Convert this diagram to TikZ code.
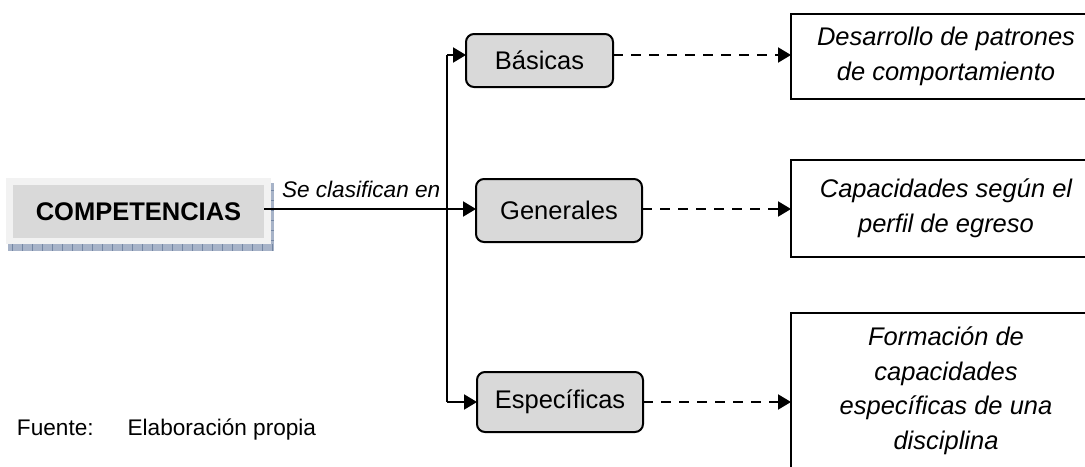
\documentclass[tikz,border=0pt]{standalone}
\usepackage{fontspec}
\setmainfont{Liberation Sans}
\usetikzlibrary{arrows.meta}
\definecolor{boxgray}{HTML}{D9D9D9}
\definecolor{framegray}{HTML}{F2F2F2}
\definecolor{shadowblue}{HTML}{A7B3C8}
\definecolor{shadowdark}{HTML}{7386A3}
\begin{document}
\begin{tikzpicture}[x=0.5pt,y=-0.5pt,
  every node/.style={inner sep=0pt,outer sep=0pt},
  bigfont/.style={font=\fontsize{12.75}{17.25}\selectfont},
  smallfont/.style={font=\fontsize{11.3}{13.5}\selectfont},
  catbox/.style={draw,line width=1pt,rounded corners=4pt,fill=boxgray,bigfont},
  descbox/.style={draw,line width=1pt,fill=white,minimum width=155pt,align=center,font=\fontsize{12.75}{17.25}\selectfont\itshape},
  conn/.style={line width=1pt,-{Triangle[length=6.5pt,width=7.5pt]}},
  dashconn/.style={conn,dash pattern=on 5pt off 4pt}
]
\useasboundingbox (0,0) rectangle (1085,466);
\clip (0,0) rectangle (1085,466);
\fill[white] (0,0) rectangle (1085,466);

% COMPETENCIAS box with frame and shadow
\fill[shadowblue] (8,244) rectangle (274,251);
\fill[shadowblue] (271,183) rectangle (274,251);
\foreach \x in {12,22,...,272} \draw[shadowdark,line width=0.4pt] (\x,244) -- (\x,251);
\foreach \y in {190,200,...,240} \draw[shadowdark,line width=0.4pt] (271,\y) -- (274,\y);
\fill[framegray] (6,178) rectangle (271,244);
\node[fill=boxgray,minimum width=125.5pt,minimum height=26.5pt,font=\fontsize{12.75}{15}\selectfont\bfseries] (comp) at (138.5,211.5) {COMPETENCIAS};

% category boxes
\node[catbox,minimum width=73.5pt,minimum height=26.5pt] (bas) at (539.5,60.5) {Básicas};
\node[catbox,minimum width=83pt,minimum height=31.5pt] (gen) at (559,210.5) {Generales};
\node[catbox,minimum width=83pt,minimum height=30pt] (esp) at (560,402) {Específicas};

% description boxes
\node[descbox,minimum height=42.5pt] (r1) at (946,56.5) {Desarrollo de patrones\\de comportamiento};
\node[descbox,minimum height=48.5pt] (r2) at (946,208.5) {Capacidades según el\\perfil de egreso};
\node[descbox,minimum height=78pt] (r3) at (946,391) {Formación de\\capacidades\\específicas de una\\disciplina};

% trunk
\coordinate (mid) at (447,209);
\coordinate (jt) at (447,55);
\coordinate (jb) at (447,402);
\draw[line width=1pt] (jt) -- (jb);
\draw[conn] (comp.east |- mid) -- (mid -| gen.west);
\draw[conn] (jt) -- (jt -| bas.west);
\draw[conn] (jb) -- (jb -| esp.west);

% dashed connectors
\draw[dashconn] (bas.east |- jt) -- (jt -| r1.west);
\draw[dashconn] (gen.east |- mid) -- (mid -| r2.west);
\draw[dashconn] (esp.east |- jb) -- (jb -| r3.west);

% labels
\node[font=\fontsize{11.3}{13.5}\selectfont\itshape,anchor=base west] (lbl) at (282,197) {Se clasifican en};
\node[smallfont,anchor=base west] (src) at (17,435) {Fuente:\hspace{17pt}Elaboración propia};
\end{tikzpicture}
\end{document}
